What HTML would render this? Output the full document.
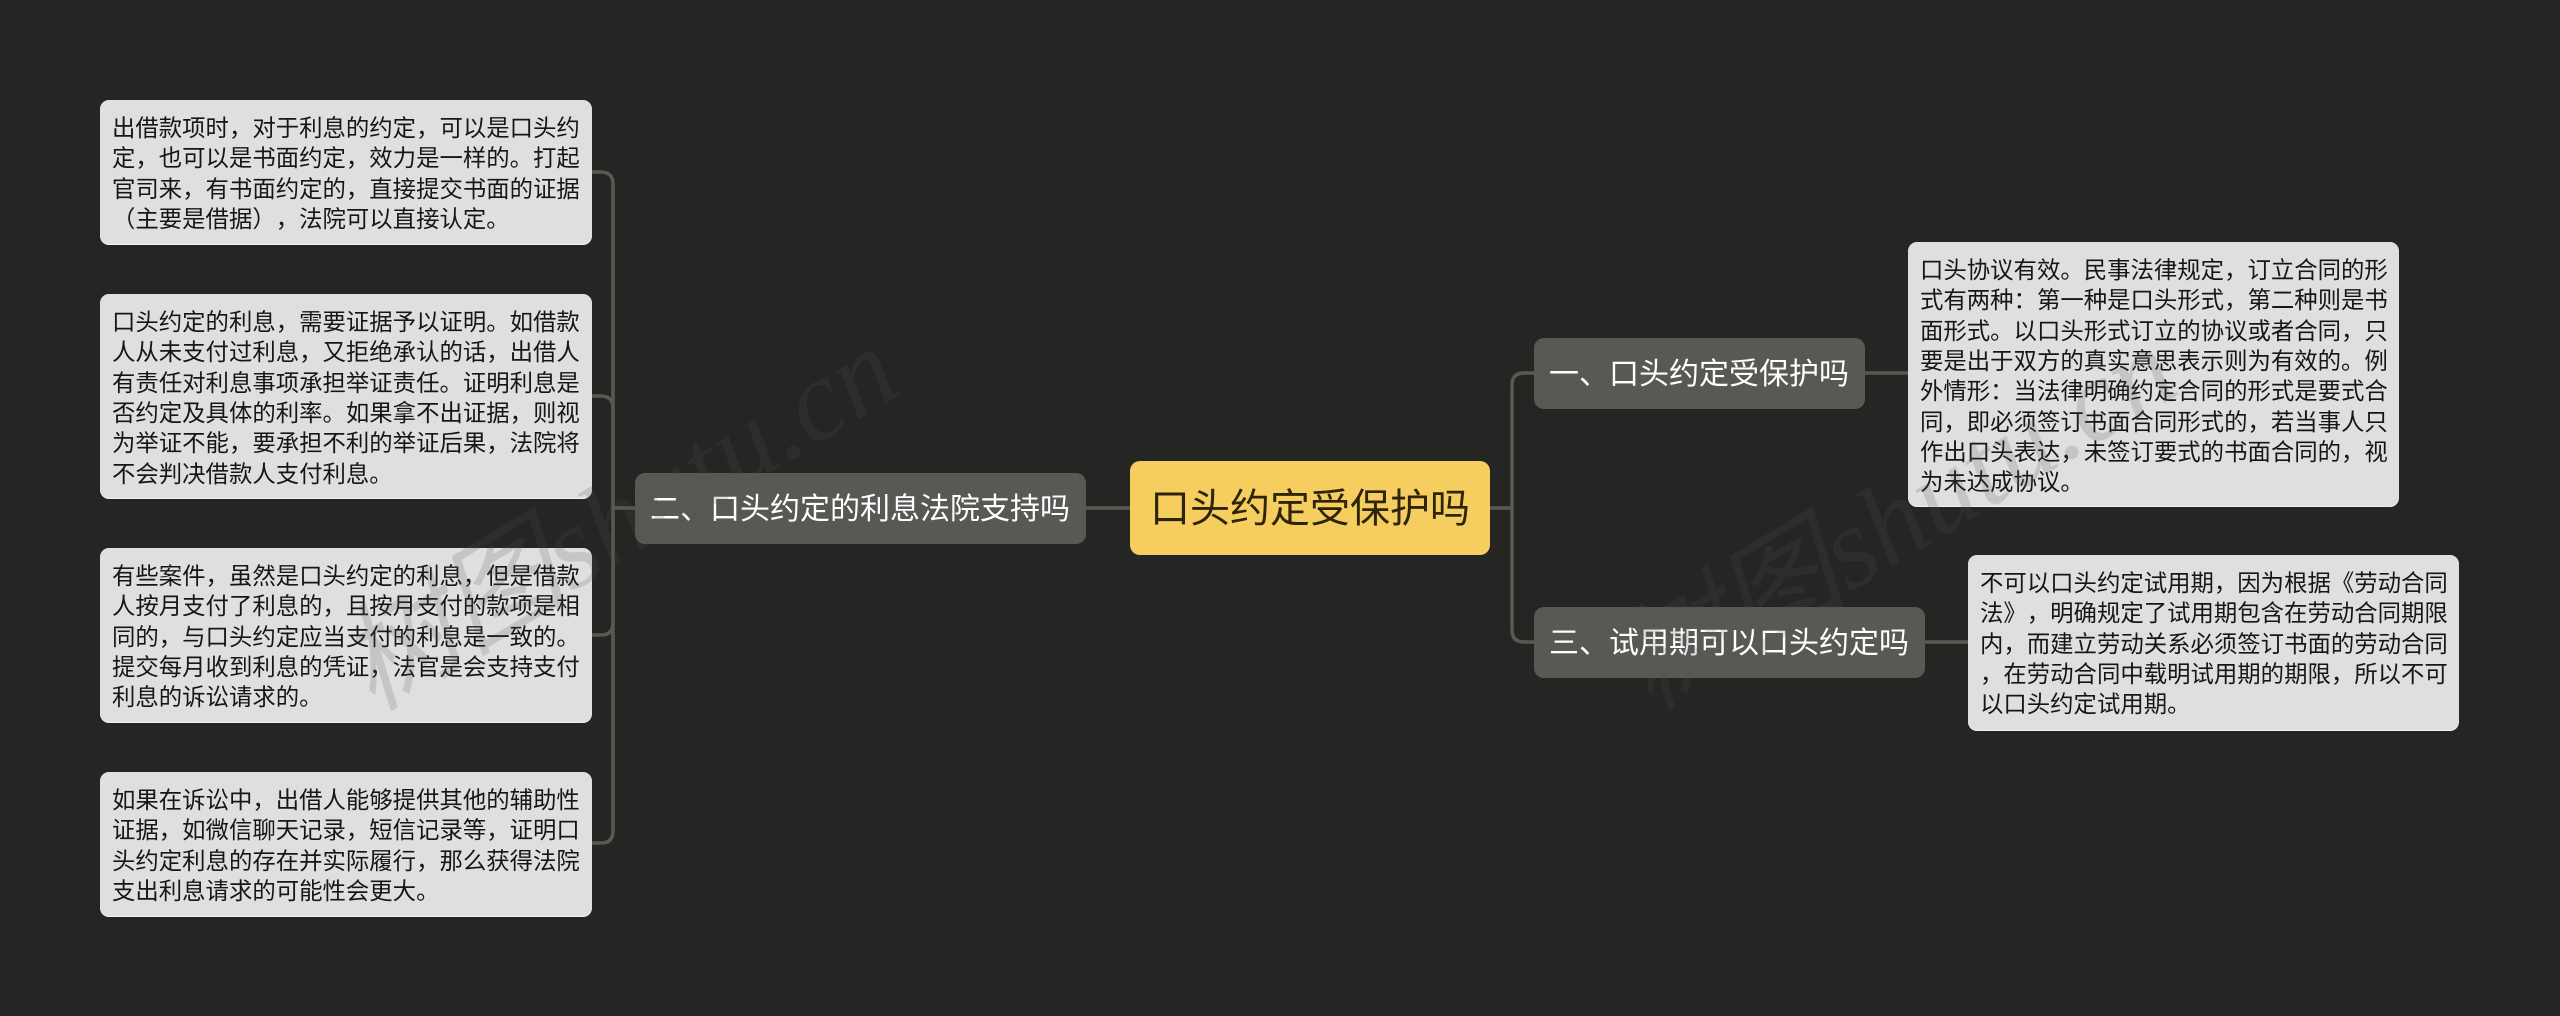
<!DOCTYPE html>
<html lang="zh">
<head>
<meta charset="utf-8">
<title>口头约定受保护吗</title>
<style>
html,body{margin:0;padding:0;width:2560px;height:1016px;overflow:hidden;background:#252524;}
body{position:relative;font-family:"Liberation Sans","Noto Sans CJK SC",sans-serif;text-spacing-trim:space-all;}
.n{position:absolute;box-sizing:border-box;white-space:nowrap;}
.leaf{background:#dfdfde;color:#161616;border-radius:9px;font-size:23.4px;line-height:30.33px;padding:13px 12px 0;box-shadow:0 1px 0 #efefee;}
.branch{background:#5a5855;color:#fff;border-radius:10px;font-size:30px;height:71px;line-height:74px;padding:0 15px;}
.root{background:#f6cd5f;color:#2e2508;border-radius:10px;font-size:40px;height:94px;line-height:97px;padding:0 20px;}
svg{position:absolute;left:0;top:0;}
</style>
</head>
<body>
<svg width="2560" height="1016" viewBox="0 0 2560 1016" fill="none" stroke="#5a5855" stroke-width="3.5">
<path d="M1490 508H1512"/>
<path d="M1534 373H1524Q1512 373 1512 385V630Q1512 642 1524 642H1534"/>
<path d="M1865 373H1908"/>
<path d="M1924 642H1968"/>
<path d="M1130 508H1086"/>
<path d="M635 508H613"/>
<path d="M592 172H601Q613 172 613 184V831Q613 843 601 843H592"/>
<path d="M592 396H601Q613 396 613 408"/>
<path d="M592 635H601Q613 635 613 623"/>
</svg>

<div class="n leaf" style="left:100px;top:100px;width:492px;height:144px">出借款项时，对于利息的约定，可以是口头约<br>定，也可以是书面约定，效力是一样的。打起<br>官司来，有书面约定的，直接提交书面的证据<br>（主要是借据），法院可以直接认定。</div>
<div class="n leaf" style="left:100px;top:294px;width:492px;height:204px">口头约定的利息，需要证据予以证明。如借款<br>人从未支付过利息，又拒绝承认的话，出借人<br>有责任对利息事项承担举证责任。证明利息是<br>否约定及具体的利率。如果拿不出证据，则视<br>为举证不能，要承担不利的举证后果，法院将<br>不会判决借款人支付利息。</div>
<div class="n leaf" style="left:100px;top:548px;width:492px;height:174px">有些案件，虽然是口头约定的利息，但是借款<br>人按月支付了利息的，且按月支付的款项是相<br>同的，与口头约定应当支付的利息是一致的。<br>提交每月收到利息的凭证，法官是会支持支付<br>利息的诉讼请求的。</div>
<div class="n leaf" style="left:100px;top:772px;width:492px;height:144px">如果在诉讼中，出借人能够提供其他的辅助性<br>证据，如微信聊天记录，短信记录等，证明口<br>头约定利息的存在并实际履行，那么获得法院<br>支出利息请求的可能性会更大。</div>

<div class="n branch" style="left:635px;top:473px;width:451px">二、口头约定的利息法院支持吗</div>
<div class="n root" style="left:1130px;top:461px;width:360px">口头约定受保护吗</div>
<div class="n branch" style="left:1534px;top:338px;width:331px">一、口头约定受保护吗</div>
<div class="n branch" style="left:1534px;top:607px;width:391px">三、试用期可以口头约定吗</div>

<div class="n leaf" style="left:1908px;top:242px;width:491px;height:264px">口头协议有效。民事法律规定，订立合同的形<br>式有两种：第一种是口头形式，第二种则是书<br>面形式。以口头形式订立的协议或者合同，只<br>要是出于双方的真实意思表示则为有效的。例<br>外情形：当法律明确约定合同的形式是要式合<br>同，即必须签订书面合同形式的，若当事人只<br>作出口头表达，未签订要式的书面合同的，视<br>为未达成协议。</div>
<div class="n leaf" style="left:1968px;top:555px;width:491px;height:175px">不可以口头约定试用期，因为根据《劳动合同<br>法》，明确规定了试用期包含在劳动合同期限<br>内，而建立劳动关系必须签订书面的劳动合同<br>，在劳动合同中载明试用期的期限，所以不可<br>以口头约定试用期。</div>

<svg width="2560" height="1016" viewBox="0 0 2560 1016">
<g fill="#515151" fill-opacity="0.18" font-size="116" font-style="italic" font-family="'Liberation Serif','Noto Sans CJK SC',serif">
<text transform="translate(372,712) rotate(-31)">树图shutu.cn</text>
<text transform="translate(1650,712) rotate(-31)">树图shutu.cn</text>
</g>
</svg>
</body>
</html>
